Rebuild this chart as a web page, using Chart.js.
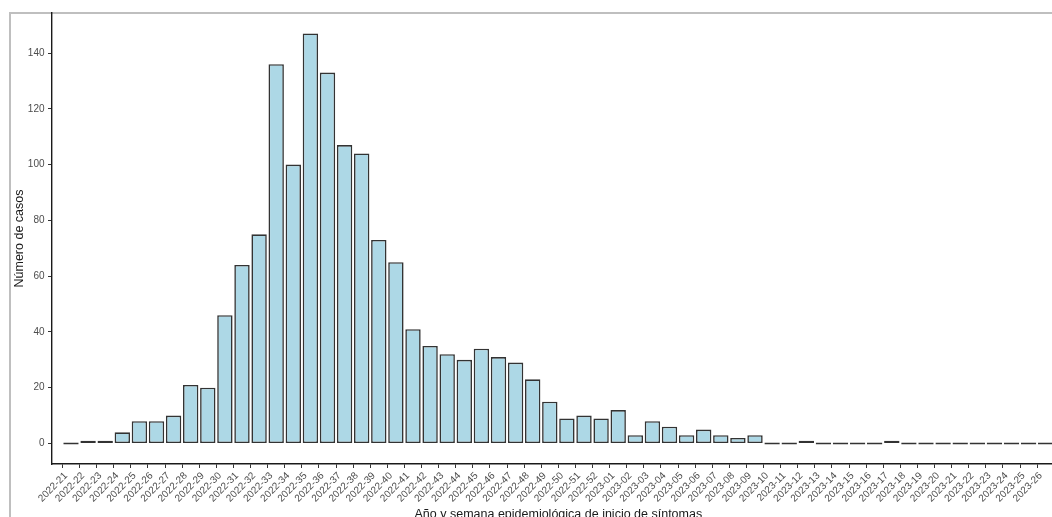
<!DOCTYPE html>
<html><head><meta charset="utf-8">
<script src="https://cdn.jsdelivr.net/npm/chart.js@4"></script>
<style>
html,body{margin:0;padding:0;background:#fff;overflow:hidden;width:1052px;height:517px}
#wrap{position:relative;width:1052px;height:517px;overflow:hidden;background:#fff}
#frame{position:absolute;left:9px;top:12px;width:1100px;height:600px;border-left:2px solid #bfbfbf;border-top:2px solid #bfbfbf;pointer-events:none}
canvas{position:absolute;left:0;top:0}
</style></head><body>
<div id="wrap"><div id="frame"></div><canvas id="c" width="1070" height="525" style="width:1070px;height:525px"></canvas></div>
<script>
const weeks = [
  "2022-21","2022-22","2022-23","2022-24","2022-25","2022-26","2022-27","2022-28","2022-29","2022-30",
  "2022-31","2022-32","2022-33","2022-34","2022-35","2022-36","2022-37","2022-38","2022-39","2022-40",
  "2022-41","2022-42","2022-43","2022-44","2022-45","2022-46","2022-47","2022-48","2022-49","2022-50",
  "2022-51","2022-52","2023-01","2023-02","2023-03","2023-04","2023-05","2023-06","2023-07","2023-08",
  "2023-09","2023-10","2023-11","2023-12","2023-13","2023-14","2023-15","2023-16","2023-17","2023-18",
  "2023-19","2023-20","2023-21","2023-22","2023-23","2023-24","2023-25","2023-26"
];
const cases = [
  0,1,1,4,8,8,10,21,20,46,
  64,75,136,100,147,133,107,104,73,65,
  41,35,32,30,34,31,29,23,15,9,
  10,9,12,3,8,6,3,5,3,2,
  3,0,0,1,0,0,0,0,1,0,
  0,0,0,0,0,0,0,0
];
const yTicks = [0,20,40,60,80,100,120,140];
const yTitle = "Número de casos";
const xTitle = "Año y semana epidemiológica de inicio de síntomas";

const FONT = '"Liberation Sans", Arial, Helvetica, sans-serif';
const points = weeks.map((w, i) => ({x: i, y: cases[i]}));

new Chart(document.getElementById('c'), {
  type: 'bar',
  data: {
    datasets: [{
      data: points,
      backgroundColor: '#add8e6',
      borderColor: '#333333',
      borderWidth: 1.6,
      borderSkipped: false,
      barPercentage: 0.9,
      categoryPercentage: 1.0,
      minBarLength: 1.8
    }]
  },
  options: {
    responsive: false,
    animation: false,
    devicePixelRatio: 1,
    layout: {padding: {left: 0, top: 13, right: 5.3, bottom: 0}},
    plugins: {legend: {display: false}, tooltip: {enabled: false}},
    scales: {
      x: {
        type: 'linear',
        min: -0.6,
        max: weeks.length - 1 + 0.6,
        afterBuildTicks: s => { s.ticks = weeks.map((w, i) => ({value: i})); },
        afterFit: s => { s.height = 61; },
        grid: {display: true, drawOnChartArea: false, drawTicks: true, tickLength: 4, color: '#333333', lineWidth: 1},
        border: {display: true, color: '#1a1a1a', width: 1.4},
        ticks: {
          autoSkip: false, maxRotation: 45, minRotation: 45, padding: 2, labelOffset: -5,
          color: '#4d4d4d', font: {family: FONT, size: 10},
          callback: v => weeks[v]
        },
        title: {display: true, text: xTitle, color: '#1a1a1a', font: {family: FONT, size: 12.5}, padding: {top: 0, bottom: 3}}
      },
      y: {
        min: -7.35,
        max: 154.35,
        afterBuildTicks: s => { s.ticks = yTicks.map(v => ({value: v})); },
        afterFit: s => { s.width = 52; },
        grid: {display: true, drawOnChartArea: false, drawTicks: true, tickLength: 4, color: '#333333', lineWidth: 1},
        border: {display: true, color: '#1a1a1a', width: 1.4},
        ticks: {color: '#4d4d4d', font: {family: FONT, size: 10}, padding: 3.5},
        title: {display: true, text: yTitle, color: '#1a1a1a', font: {family: FONT, size: 12.5}, padding: {top: 12, bottom: 0}}
      }
    }
  }
});
</script>
</body></html>
